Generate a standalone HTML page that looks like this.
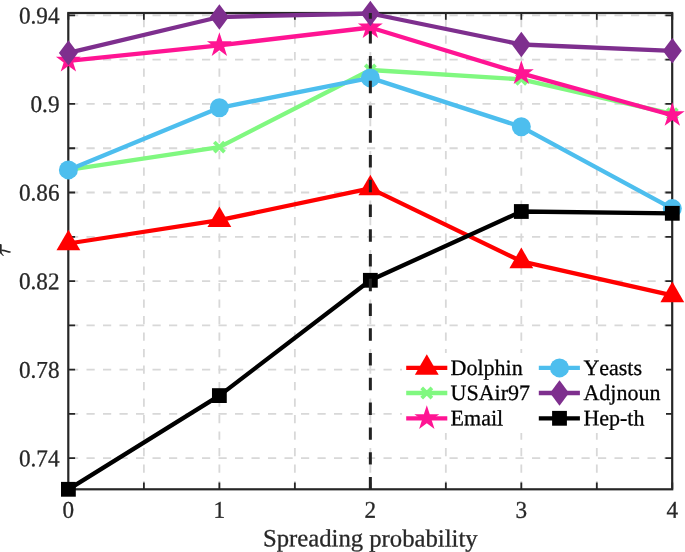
<!DOCTYPE html>
<html><head><meta charset="utf-8"><title>Spreading probability vs tau</title><style>
html,body{margin:0;padding:0;background:#fff;width:685px;height:552px;overflow:hidden;}
svg{display:block;}
text{font-family:"Liberation Serif",serif;font-kerning:none;}
</style></head><body>
<svg width="685" height="552" viewBox="0 0 685 552">
<g stroke="#d8d8d8" stroke-width="1.8" stroke-dasharray="8.2 8.3" fill="none">
<line x1="672.2" y1="15.4" x2="68.3" y2="15.4"/>
<line x1="672.2" y1="59.68" x2="68.3" y2="59.68"/>
<line x1="672.2" y1="103.96" x2="68.3" y2="103.96"/>
<line x1="672.2" y1="148.24" x2="68.3" y2="148.24"/>
<line x1="672.2" y1="192.52" x2="68.3" y2="192.52"/>
<line x1="672.2" y1="236.8" x2="68.3" y2="236.8"/>
<line x1="672.2" y1="281.08" x2="68.3" y2="281.08"/>
<line x1="672.2" y1="325.36" x2="68.3" y2="325.36"/>
<line x1="672.2" y1="369.64" x2="68.3" y2="369.64"/>
<line x1="672.2" y1="413.92" x2="68.3" y2="413.92"/>
<line x1="672.2" y1="458.2" x2="68.3" y2="458.2"/>
<line x1="143.89" y1="489.3" x2="143.89" y2="13"/>
<line x1="219.38" y1="489.3" x2="219.38" y2="13"/>
<line x1="294.86" y1="489.3" x2="294.86" y2="13"/>
<line x1="370.35" y1="489.3" x2="370.35" y2="13"/>
<line x1="445.84" y1="489.3" x2="445.84" y2="13"/>
<line x1="521.32" y1="489.3" x2="521.32" y2="13"/>
<line x1="596.81" y1="489.3" x2="596.81" y2="13"/>
</g>
<g stroke="#262626" fill="none">
<path d="M68.3 15.4H75.1M672.2 15.4H665.4M68.3 59.68H75.1M672.2 59.68H665.4M68.3 103.96H75.1M672.2 103.96H665.4M68.3 148.24H75.1M672.2 148.24H665.4M68.3 192.52H75.1M672.2 192.52H665.4M68.3 236.8H75.1M672.2 236.8H665.4M68.3 281.08H75.1M672.2 281.08H665.4M68.3 325.36H75.1M672.2 325.36H665.4M68.3 369.64H75.1M672.2 369.64H665.4M68.3 413.92H75.1M672.2 413.92H665.4M68.3 458.2H75.1M672.2 458.2H665.4M68.4 489.3V482.5M68.4 13V19.8M143.89 489.3V482.5M143.89 13V19.8M219.38 489.3V482.5M219.38 13V19.8M294.86 489.3V482.5M294.86 13V19.8M370.35 489.3V482.5M370.35 13V19.8M445.84 489.3V482.5M445.84 13V19.8M521.32 489.3V482.5M521.32 13V19.8M596.81 489.3V482.5M596.81 13V19.8M672.3 489.3V482.5M672.3 13V19.8" stroke-width="1.8"/>
<rect x="68.3" y="13" width="603.9" height="476.3" stroke-width="2.2"/>
</g>
<polyline points="68.4,243.5 219.38,220.2 370.35,188.4 521.32,261.3 672.3,295.3" fill="none" stroke="#FF0000" stroke-width="4.3" stroke-linejoin="round"/>
<polygon points="68.4,229.77 80.3,250.37 56.5,250.37" fill="#FF0000"/>
<polygon points="219.38,206.47 231.28,227.07 207.47,227.07" fill="#FF0000"/>
<polygon points="370.35,174.67 382.25,195.27 358.45,195.27" fill="#FF0000"/>
<polygon points="521.32,247.57 533.22,268.17 509.42,268.17" fill="#FF0000"/>
<polygon points="672.3,281.57 684.2,302.17 660.4,302.17" fill="#FF0000"/>
<polyline points="68.4,169.9 219.38,147.1 370.35,70 521.32,79.3 672.3,113.8" fill="none" stroke="#80F880" stroke-width="4.3" stroke-linejoin="round"/>
<path d="M63.3 164.8L73.5 175M63.3 175L73.5 164.8" stroke="#80F880" stroke-width="3.8" fill="none"/>
<path d="M214.28 142L224.47 152.2M214.28 152.2L224.47 142" stroke="#80F880" stroke-width="3.8" fill="none"/>
<path d="M365.25 64.9L375.45 75.1M365.25 75.1L375.45 64.9" stroke="#80F880" stroke-width="3.8" fill="none"/>
<path d="M516.22 74.2L526.42 84.4M516.22 84.4L526.42 74.2" stroke="#80F880" stroke-width="3.8" fill="none"/>
<path d="M667.2 108.7L677.4 118.9M667.2 118.9L677.4 108.7" stroke="#80F880" stroke-width="3.8" fill="none"/>
<polyline points="68.4,60.9 219.38,45.3 370.35,27.5 521.32,73.4 672.3,115.25" fill="none" stroke="#FF1493" stroke-width="4.3" stroke-linejoin="round"/>
<polygon points="68.4,47.8 71.34,56.85 80.86,56.85 73.16,62.45 76.1,71.5 68.4,65.9 60.7,71.5 63.64,62.45 55.94,56.85 65.46,56.85" fill="#FF1493"/>
<polygon points="219.38,32.2 222.32,41.25 231.83,41.25 224.13,46.85 227.07,55.9 219.38,50.3 211.68,55.9 214.62,46.85 206.92,41.25 216.43,41.25" fill="#FF1493"/>
<polygon points="370.35,14.4 373.29,23.45 382.81,23.45 375.11,29.05 378.05,38.1 370.35,32.5 362.65,38.1 365.59,29.05 357.89,23.45 367.41,23.45" fill="#FF1493"/>
<polygon points="521.32,60.3 524.27,69.35 533.78,69.35 526.08,74.95 529.02,84 521.32,78.4 513.63,84 516.57,74.95 508.87,69.35 518.38,69.35" fill="#FF1493"/>
<polygon points="672.3,102.15 675.24,111.2 684.76,111.2 677.06,116.8 680,125.85 672.3,120.25 664.6,125.85 667.54,116.8 659.84,111.2 669.36,111.2" fill="#FF1493"/>
<polyline points="68.4,169.9 219.38,107.8 370.35,77.9 521.32,126.8 672.3,208.6" fill="none" stroke="#4DBEEE" stroke-width="4.3" stroke-linejoin="round"/>
<circle cx="68.4" cy="169.9" r="9.5" fill="#4DBEEE"/>
<circle cx="219.38" cy="107.8" r="9.5" fill="#4DBEEE"/>
<circle cx="370.35" cy="77.9" r="9.5" fill="#4DBEEE"/>
<circle cx="521.32" cy="126.8" r="9.5" fill="#4DBEEE"/>
<circle cx="672.3" cy="208.6" r="9.5" fill="#4DBEEE"/>
<polyline points="68.4,52.9 219.38,17 370.35,13.5 521.32,44.5 672.3,50.8" fill="none" stroke="#7E2F8E" stroke-width="4.3" stroke-linejoin="round"/>
<polygon points="68.4,40.2 77.9,52.9 68.4,65.6 58.9,52.9" fill="#7E2F8E"/>
<polygon points="219.38,4.3 228.88,17 219.38,29.7 209.88,17" fill="#7E2F8E"/>
<polygon points="370.35,0.8 379.85,13.5 370.35,26.2 360.85,13.5" fill="#7E2F8E"/>
<polygon points="521.32,31.8 530.82,44.5 521.32,57.2 511.82,44.5" fill="#7E2F8E"/>
<polygon points="672.3,38.1 681.8,50.8 672.3,63.5 662.8,50.8" fill="#7E2F8E"/>
<polyline points="68.4,489.3 219.38,395.6 370.35,280.3 521.32,211.5 672.3,213.3" fill="none" stroke="#000000" stroke-width="4.3" stroke-linejoin="round"/>
<rect x="61" y="481.9" width="14.8" height="14.8" fill="#000000"/>
<rect x="211.97" y="388.2" width="14.8" height="14.8" fill="#000000"/>
<rect x="362.95" y="272.9" width="14.8" height="14.8" fill="#000000"/>
<rect x="513.92" y="204.1" width="14.8" height="14.8" fill="#000000"/>
<rect x="664.9" y="205.9" width="14.8" height="14.8" fill="#000000"/>
<line x1="370.35" y1="489.3" x2="370.35" y2="13" stroke="#222" stroke-width="3" stroke-dasharray="12.4 12.36"/>
<rect x="402" y="353" width="264" height="80" fill="#fff"/>
<line x1="406.2" y1="367.9" x2="447.3" y2="367.9" stroke="#FF0000" stroke-width="4.3"/>
<polygon points="426.8,354.17 438.7,374.77 414.9,374.77" fill="#FF0000"/>
<line x1="406.2" y1="393" x2="447.3" y2="393" stroke="#80F880" stroke-width="4.3"/>
<path d="M421.7 387.9L431.9 398.1M421.7 398.1L431.9 387.9" stroke="#80F880" stroke-width="3.8" fill="none"/>
<line x1="406.2" y1="418.3" x2="447.3" y2="418.3" stroke="#FF1493" stroke-width="4.3"/>
<polygon points="426.8,405.2 429.74,414.25 439.26,414.25 431.56,419.85 434.5,428.9 426.8,423.3 419.1,428.9 422.04,419.85 414.34,414.25 423.86,414.25" fill="#FF1493"/>
<line x1="538.8" y1="367.9" x2="579.9" y2="367.9" stroke="#4DBEEE" stroke-width="4.3"/>
<circle cx="559.5" cy="367.9" r="9.5" fill="#4DBEEE"/>
<line x1="538.8" y1="393" x2="579.9" y2="393" stroke="#7E2F8E" stroke-width="4.3"/>
<polygon points="559.5,380.3 569,393 559.5,405.7 550,393" fill="#7E2F8E"/>
<line x1="538.8" y1="418.3" x2="579.9" y2="418.3" stroke="#000000" stroke-width="4.3"/>
<rect x="552.1" y="410.9" width="14.8" height="14.8" fill="#000000"/>
<g style="will-change:opacity;opacity:0.995" stroke-width="0.3">
<text x="450.6" y="374.9" font-size="22" fill="#000" stroke="#000" transform="rotate(0.1 450.6 374.9)">Dolphin</text>
<text x="450.6" y="400" font-size="22" fill="#000" stroke="#000" transform="rotate(0.1 450.6 400)">USAir97</text>
<text x="450.6" y="425.3" font-size="22" fill="#000" stroke="#000" transform="rotate(0.1 450.6 425.3)">Email</text>
<text x="583.4" y="374.9" font-size="22" fill="#000" stroke="#000" transform="rotate(0.1 583.4 374.9)">Yeasts</text>
<text x="583.4" y="400" font-size="22" fill="#000" stroke="#000" transform="rotate(0.1 583.4 400)">Adjnoun</text>
<text x="583.4" y="425.3" font-size="22" fill="#000" stroke="#000" transform="rotate(0.1 583.4 425.3)">Hep-th</text>
<text x="59.5" y="23.5" font-size="24" fill="#262626" text-anchor="end" stroke="#262626" transform="rotate(0.1 59.5 23.5) translate(59.5 0) scale(0.965 1) translate(-59.5 0)">0.94</text>
<text x="59.5" y="112.06" font-size="24" fill="#262626" text-anchor="end" stroke="#262626" transform="rotate(0.1 59.5 112.06) translate(59.5 0) scale(0.965 1) translate(-59.5 0)">0.9</text>
<text x="59.5" y="200.62" font-size="24" fill="#262626" text-anchor="end" stroke="#262626" transform="rotate(0.1 59.5 200.62) translate(59.5 0) scale(0.965 1) translate(-59.5 0)">0.86</text>
<text x="59.5" y="289.18" font-size="24" fill="#262626" text-anchor="end" stroke="#262626" transform="rotate(0.1 59.5 289.18) translate(59.5 0) scale(0.965 1) translate(-59.5 0)">0.82</text>
<text x="59.5" y="377.74" font-size="24" fill="#262626" text-anchor="end" stroke="#262626" transform="rotate(0.1 59.5 377.74) translate(59.5 0) scale(0.965 1) translate(-59.5 0)">0.78</text>
<text x="59.5" y="466.3" font-size="24" fill="#262626" text-anchor="end" stroke="#262626" transform="rotate(0.1 59.5 466.3) translate(59.5 0) scale(0.965 1) translate(-59.5 0)">0.74</text>
<text x="68.4" y="517.8" font-size="24" fill="#262626" text-anchor="middle" stroke="#262626" transform="rotate(0.1 68.4 517.8) translate(68.4 0) scale(0.965 1) translate(-68.4 0)">0</text>
<text x="219.38" y="517.8" font-size="24" fill="#262626" text-anchor="middle" stroke="#262626" transform="rotate(0.1 219.38 517.8) translate(219.38 0) scale(0.965 1) translate(-219.38 0)">1</text>
<text x="370.35" y="517.8" font-size="24" fill="#262626" text-anchor="middle" stroke="#262626" transform="rotate(0.1 370.35 517.8) translate(370.35 0) scale(0.965 1) translate(-370.35 0)">2</text>
<text x="521.32" y="517.8" font-size="24" fill="#262626" text-anchor="middle" stroke="#262626" transform="rotate(0.1 521.32 517.8) translate(521.32 0) scale(0.965 1) translate(-521.32 0)">3</text>
<text x="672.3" y="517.8" font-size="24" fill="#262626" text-anchor="middle" stroke="#262626" transform="rotate(0.1 672.3 517.8) translate(672.3 0) scale(0.965 1) translate(-672.3 0)">4</text>
<text x="370.3" y="546.4" font-size="24.7" fill="#262626" text-anchor="middle" stroke="#262626" transform="rotate(0.1 370.3 546.4)">Spreading probability</text>
<g fill="#262626" stroke="none"><path d="M-1 244.6Q0.4 243.5 1.7 244.6L1.7 253.6L-1 253.6Z"/><path d="M1.4 249.6C3.5 249.7 5.5 250.1 7.6 250.7C9.3 250.9 10.9 251.2 10.9 252.1C10.8 252.9 9.3 252.9 7.8 252.6C5.6 252.1 3.5 251.2 1.4 251.1Z"/><path d="M0.3 252.8C1.1 254.2 2.2 255.4 3.4 256.1L3.9 255.5C2.9 254.6 2.1 253.6 1.6 252.6Z"/></g>
</g>
</svg>
</body></html>
